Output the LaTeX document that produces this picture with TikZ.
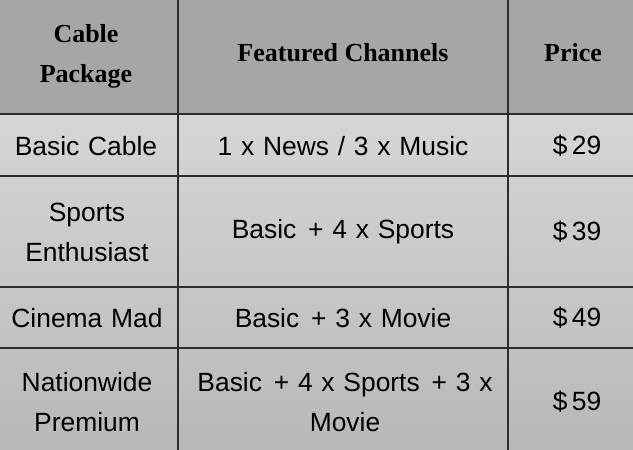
\documentclass[tikz,border=0pt]{standalone}
\usepackage{fontspec}
\setmainfont{Liberation Sans}
\newfontfamily\headfont{Liberation Serif}
\definecolor{headgray}{RGB}{166,166,166}
\definecolor{bodytop}{RGB}{214,214,214}
\definecolor{bodybottom}{RGB}{184,184,184}
\definecolor{rulegray}{RGB}{45,45,45}
\newcommand{\cellfont}{\fontsize{26.4}{40}\selectfont\spaceskip=8.8pt\relax}

\begin{document}
\begin{tikzpicture}[x=1pt, y=-1pt]
    \tikzstyle{head} = [font=\headfont\bfseries\fontsize{26}{40}\selectfont, align=center]
    \tikzstyle{cell} = [font=\cellfont, align=center]
    \tikzstyle{rule} = [line width=1.6pt, rulegray]
    \useasboundingbox (0, 0) rectangle (633, 450);
    \fill [headgray] (0, 0) rectangle (633, 114);
    \shade [top color=bodytop, bottom color=bodybottom] (0, 114) rectangle (633, 450);
    \foreach \y in {114, 176, 287, 348} {
      \draw [rule] (0, \y) -- (633, \y);
    }
    \foreach \x in {178, 508} {
      \draw [rule] (\x, 0) -- (\x, 450);
    }

    \node [head] (pkgHead) at (86, 56) {Cable\\Package};
    \node [head] (chanHead) at (343, 53) {Featured Channels};
    \node [head] (priceHead) at (573, 53) {Price};

    \node [cell] (basic) at (86, 146) {Basic Cable};
    \node [cell] (basicChan) at (343, 146) {1 x News / 3 x Music};
    \node [cell] (basicPrice) at (577, 146) {\$\,29};

    \node [cell] (sports) at (87, 232) {Sports\\Enthusiast};
    \node [cell] (sportsChan) at (343, 232) {Basic\hspace{3pt} + 4 x Sports};
    \node [cell] (sportsPrice) at (577, 232) {\$\,39};

    \node [cell] (cinema) at (87, 318) {Cinema Mad};
    \node [cell] (cinemaChan) at (343, 318) {Basic\hspace{3pt} + 3 x Movie};
    \node [cell] (cinemaPrice) at (577, 318) {\$\,49};

    \node [cell] (nation) at (87, 402) {Nationwide\\Premium};
    \node [cell] (nationChan) at (345, 402) {Basic\hspace{3pt} + 4 x Sports\hspace{3pt} + 3 x\\Movie};
    \node [cell] (nationPrice) at (577, 402) {\$\,59};
\end{tikzpicture}
\end{document}
